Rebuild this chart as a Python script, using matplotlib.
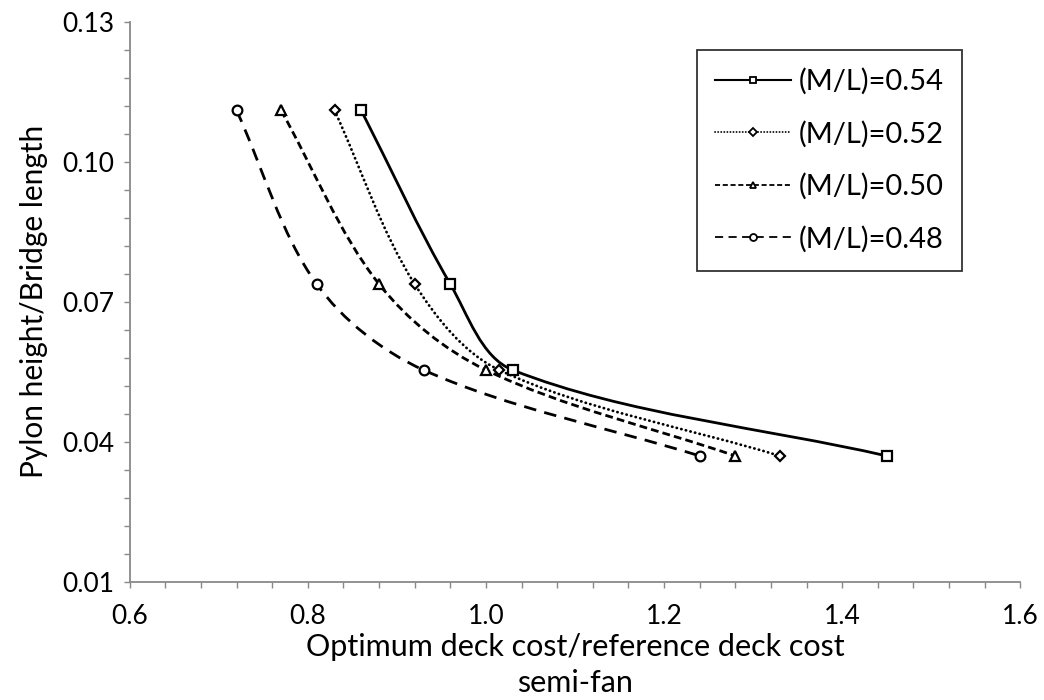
import numpy as np
import matplotlib
matplotlib.use("Agg")
import matplotlib.pyplot as plt
from matplotlib.path import Path
from matplotlib.patches import PathPatch
from matplotlib.lines import Line2D
from matplotlib.ticker import FixedLocator, FormatStrFormatter

plt.rcParams['font.family'] = ['Lato', 'DejaVu Sans']

# ---- data ----
labels = ["(M/L)=0.54", "(M/L)=0.52", "(M/L)=0.50", "(M/L)=0.48"]
y_vals = [0.111, 0.0738, 0.0554, 0.037]
x_054 = [0.86, 0.96, 1.03, 1.45]
x_052 = [0.83, 0.92, 1.015, 1.33]
x_050 = [0.77, 0.88, 1.00, 1.28]
x_048 = [0.72, 0.81, 0.93, 1.24]
x_series = [x_054, x_052, x_050, x_048]
x_ticks = [0.6, 0.8, 1.0, 1.2, 1.4, 1.6]
y_ticks = [0.01, 0.04, 0.07, 0.10, 0.13]

markers = ['s', 'D', '^', 'o']
msizes = [7, 5, 7, 7]
leg_msizes = [5, 4, 5, 5]
lstyles = ['-', (0, (0.1, 1.6)), (0, (2.8, 1.5)), (0, (4.5, 3.0))]
dotted = [False, True, False, False]

fig = plt.figure(figsize=(10.44, 7.0), dpi=100)
ax = fig.add_axes([0.1242, 0.1686, 0.9773 - 0.1242, 0.969 - 0.1686])
ax.set_xlim(x_ticks[0], x_ticks[-1])
ax.set_ylim(y_ticks[0], y_ticks[-1])
ax.xaxis.set_major_locator(FixedLocator(x_ticks))
ax.xaxis.set_minor_locator(FixedLocator(np.linspace(x_ticks[0], x_ticks[-1], 26)))
ax.yaxis.set_major_locator(FixedLocator(y_ticks))
ax.yaxis.set_minor_locator(FixedLocator(np.linspace(y_ticks[0], y_ticks[-1], 21)))
ax.xaxis.set_major_formatter(FormatStrFormatter('%.1f'))
ax.yaxis.set_major_formatter(FormatStrFormatter('%.2f'))

gray = '#898989'
for s in ['top', 'right']:
    ax.spines[s].set_visible(False)
for s in ['left', 'bottom']:
    ax.spines[s].set_color(gray)
    ax.spines[s].set_linewidth(1.3)
ax.tick_params(which='both', direction='out', length=4, width=1.0, color=gray,
               labelsize=19, labelcolor='black')
ax.tick_params(axis='y', pad=7)
ax.tick_params(axis='x', pad=12)


def smooth_path(xs, ys):
    """Excel-like smoothed curve as cubic Bezier path (chord-length scaled tangents,
    computed in display space)."""
    pts = ax.transData.transform(np.column_stack([xs, ys]))
    n = len(pts)
    d = [np.hypot(*(pts[i + 1] - pts[i])) for i in range(n - 1)]
    verts = [pts[0]]
    codes = [Path.MOVETO]
    for i in range(n - 1):
        p1, p2 = pts[i], pts[i + 1]
        if i > 0:
            t1 = (p2 - pts[i - 1]) * d[i] / (d[i - 1] + d[i])
        else:
            t1 = (p2 - p1)
        if i + 2 < n:
            t2 = (pts[i + 2] - p1) * d[i] / (d[i] + d[i + 1])
        else:
            t2 = (p2 - p1)
        c1 = p1 + t1 / 3.0
        c2 = p2 - t2 / 3.0
        verts += [c1, c2, p2]
        codes += [Path.CURVE4] * 3
    verts = ax.transData.inverted().transform(np.array(verts))
    return Path(verts, codes)


handles = []
for xs, mk, ms, lms, ls, dt, lab in zip(x_series, markers, msizes, leg_msizes,
                                         lstyles, dotted, labels):
    cap = 'round' if dt else 'butt'
    patch = PathPatch(smooth_path(xs, y_vals), facecolor='none', edgecolor='black',
                      linewidth=2.0, linestyle=ls, capstyle=cap,
                      transform=ax.transData, zorder=2)
    ax.add_patch(patch)
    ax.plot(xs, y_vals, linestyle='none', marker=mk, markersize=ms,
            markerfacecolor='white', markeredgecolor='black', markeredgewidth=1.6, zorder=3)
    h = Line2D([], [], color='black', linewidth=1.5 if ls == '-' else 1.3, linestyle=ls,
               marker=mk, markersize=lms, markerfacecolor='white',
               markeredgecolor='black', markeredgewidth=1.3, dash_capstyle=cap)
    handles.append(h)

leg = ax.legend(handles, labels, loc='upper right', bbox_to_anchor=(962 / 1044, 1 - 50 / 700),
                bbox_transform=fig.transFigure, fontsize=21, frameon=True, fancybox=False,
                handlelength=2.6, handletextpad=0.28, labelspacing=0.88,
                borderpad=0.62, borderaxespad=0)
leg.get_frame().set_edgecolor('black')
leg.get_frame().set_linewidth(1.3)

ax.set_xlabel("Optimum deck cost/reference deck cost\nsemi-fan", fontsize=22,
              linespacing=1.35, labelpad=3)
ax.set_ylabel("Pylon height/Bridge length", fontsize=21.5, labelpad=10)

fig.savefig("out.png", dpi=100)
